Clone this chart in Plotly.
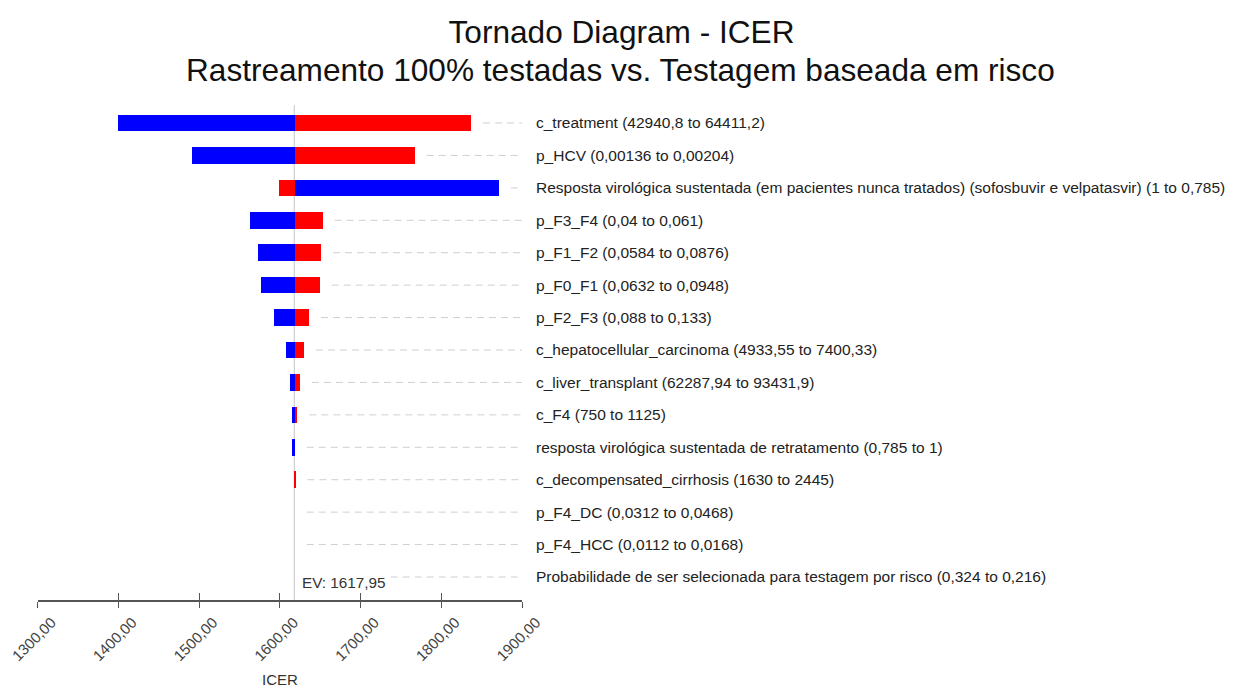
import plotly.graph_objects as go

# ---------------- data ----------------
params = [
    "c_treatment (42940,8 to 64411,2)",
    "p_HCV (0,00136 to 0,00204)",
    "Resposta virológica sustentada (em pacientes nunca tratados) (sofosbuvir e velpatasvir) (1 to 0,785)",
    "p_F3_F4 (0,04 to 0,061)",
    "p_F1_F2 (0,0584 to 0,0876)",
    "p_F0_F1 (0,0632 to 0,0948)",
    "p_F2_F3 (0,088 to 0,133)",
    "c_hepatocellular_carcinoma (4933,55 to 7400,33)",
    "c_liver_transplant (62287,94 to 93431,9)",
    "c_F4 (750 to 1125)",
    "resposta virológica sustentada de retratamento (0,785 to 1)",
    "c_decompensated_cirrhosis (1630 to 2445)",
    "p_F4_DC (0,0312 to 0,0468)",
    "p_F4_HCC (0,0112 to 0,0168)",
    "Probabilidade de ser selecionada para testagem por risco (0,324 to 0,216)",
]
# ICER at the low end of each parameter range (blue) and at the high end (red)
icer_low = [1398.8, 1491.3, 1870.6, 1562.0, 1572.4, 1575.7, 1591.8, 1606.7,
            1611.6, 1614.0, 1614.0, 1617.2, 1617.95, 1617.95, 1617.95]
icer_high = [1836.4, 1766.6, 1598.0, 1652.5, 1650.4, 1648.8, 1635.6, 1629.4,
             1624.4, 1621.2, 1617.95, 1618.7, 1617.95, 1617.95, 1617.95]
ev = 1617.95
x_ticks = [1300, 1400, 1500, 1600, 1700, 1800, 1900]

title_line1 = "Tornado Diagram - ICER"
title_line2 = "Rastreamento 100% testadas vs. Testagem baseada em risco"
x_title = "ICER"

# ---------------- figure ----------------
W, H = 1237, 689
OFF = 8  # page body margin
FONT = "Liberation Sans, Arial, sans-serif"
rows = list(range(len(params)))

fig = go.Figure()

# dashed guide lines from the end of each bar to the right edge
for i in rows:
    start = max(icer_low[i], icer_high[i], ev) + 15.5
    fig.add_trace(go.Scatter(
        x=[start, x_ticks[-1]], y=[i, i], mode="lines",
        line=dict(color="#cfcfcf", width=1, dash="7px,5px"),
        hoverinfo="skip", showlegend=False))

fig.add_trace(go.Bar(
    y=rows, x=[v - ev for v in icer_low], base=ev, orientation="h",
    marker=dict(color="#0000ff", line=dict(width=0)), width=0.51,
    name="low", showlegend=False))
fig.add_trace(go.Bar(
    y=rows, x=[v - ev for v in icer_high], base=ev, orientation="h",
    marker=dict(color="#ff0000", line=dict(width=0)), width=0.51,
    name="high", showlegend=False))

# EV vertical line
fig.add_shape(type="line", xref="x", yref="y domain", x0=ev, x1=ev, y0=0, y1=1,
              line=dict(color="#c4c4c4", width=1), layer="below")

fig.add_annotation(x=ev, y=len(params) - 1, xref="x", yref="y",
                   text="EV: " + f"{ev:.2f}".replace(".", ","),
                   showarrow=False, xanchor="left", yanchor="middle",
                   xshift=6.5, yshift=-5, bgcolor="white", borderpad=0,
                   font=dict(family=FONT, size=15.3, color="#333333"))

# target pixel geometry (page coords minus body margin)
x0_px, x1_px = 37.5 - OFF, 522.0 - OFF
y_top_px, y_bot_px = 105.0 - OFF, 600.0 - OFF
row0_px, rowN_px = 123.0 - OFF, 577.0 - OFF
step = (rowN_px - row0_px) / (len(params) - 1)
y_top_val = -(row0_px - y_top_px) / step
y_bot_val = (len(params) - 1) + (y_bot_px - rowN_px) / step

xdom = [x0_px / W, x1_px / W]
ydom = [1 - y_bot_px / H, 1 - y_top_px / H]

fig.add_annotation(text=title_line2, xref="paper", yref="paper",
                   x=(620.5 - OFF) / W, y=1 - (70 - OFF) / H,
                   xanchor="center", yanchor="middle", showarrow=False,
                   font=dict(family=FONT, size=31.6, color="#111111"))
fig.add_annotation(text=x_title, xref="paper", yref="paper",
                   x=(x0_px + x1_px) / 2 / W, y=1 - (679.5 - OFF) / H,
                   xanchor="center", yanchor="middle", showarrow=False,
                   font=dict(family=FONT, size=15, color="#333333"))

fig.update_layout(
    width=W, height=H, template="none",
    paper_bgcolor="white", plot_bgcolor="white",
    margin=dict(l=0, r=0, t=0, b=0),
    barmode="overlay", bargap=0,
    separators=",.",
    font=dict(family=FONT, size=15, color="#222222"),
    title=dict(text=title_line1, x=(621.5 - OFF) / W, xanchor="center",
               y=1 - (32 - OFF) / H, yanchor="middle", xref="paper", yref="paper",
               font=dict(family=FONT, size=31.6, color="#111111")),
    xaxis=dict(domain=xdom, range=[x_ticks[0], x_ticks[-1]], anchor="y",
               tickvals=x_ticks, tickformat=".2f", tickangle=-45,
               ticks="outside", ticklen=6, tickcolor="#555555", tickwidth=1.2,
               showline=True, linecolor="#555555", linewidth=1.6,
               showgrid=False, zeroline=False, automargin=False,
               ticklabelshift=14, ticklabeloverflow="allow",
               tickfont=dict(family=FONT, size=15, color="#444444")),
    xaxis2=dict(domain=xdom, range=[x_ticks[0], x_ticks[-1]], anchor="y",
                overlaying="x", side="bottom", tickvals=x_ticks,
                showticklabels=False, ticks="inside", ticklen=7,
                tickcolor="#555555", tickwidth=1.2, showline=False,
                showgrid=False, zeroline=False, automargin=False),
    yaxis=dict(domain=ydom, range=[y_bot_val, y_top_val], anchor="x",
               side="right", tickvals=rows, ticktext=params,
               ticks="", showline=False, showgrid=False, zeroline=False,
               ticklabelstandoff=13, automargin=False,
               tickfont=dict(family=FONT, size=15.5, color="#222222")),
)
# invisible trace to activate xaxis2 (inner tick marks)
fig.add_trace(go.Scatter(x=[ev], y=[0], xaxis="x2", mode="markers",
                         marker=dict(opacity=0), hoverinfo="skip", showlegend=False))

fig.write_html("out.html")
